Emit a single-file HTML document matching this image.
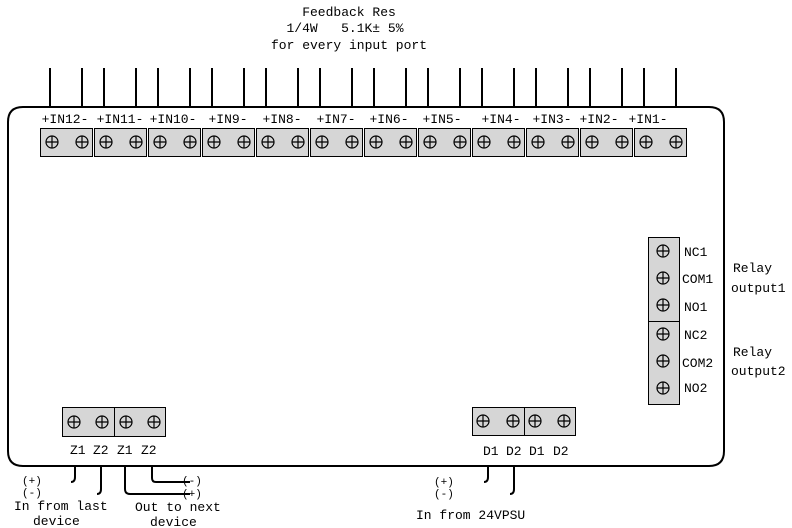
<!DOCTYPE html>
<html><head><meta charset="utf-8"><style>
html,body{margin:0;padding:0;background:#fff;}
svg{display:block;}
text{font-family:"Liberation Mono","Noto Sans CJK SC",monospace;font-size:13px;fill:#000;white-space:pre;}
</style></head><body>
<svg width="792" height="528" viewBox="0 0 792 528" xmlns="http://www.w3.org/2000/svg">
<defs>
<g id="s"><circle r="6" fill="none" stroke="#000" stroke-width="1.2"/><path d="M-6 0H6M0 -6V6" stroke="#000" stroke-width="1.2"/></g>
</defs>
<text x="349" y="16" text-anchor="middle">Feedback Res</text>
<text x="345" y="32" text-anchor="middle" xml:space="preserve">1/4W   5.1K± 5%</text>
<text x="349" y="49" text-anchor="middle">for every input port</text>
<path d="M23 107H709Q724 107 724 122V451Q724 466 709 466H23Q8 466 8 451V122Q8 107 23 107Z" fill="none" stroke="#000" stroke-width="2"/>
<g stroke="#000" stroke-width="2">
<path d="M50 68V107M82 68V107M104 68V107M136 68V107M158 68V107M190 68V107M212 68V107M244 68V107M266 68V107M298 68V107M320 68V107M352 68V107M374 68V107M406 68V107M428 68V107M460 68V107M482 68V107M514 68V107M536 68V107M568 68V107M590 68V107M622 68V107M644 68V107M676 68V107"/>
</g>
<g fill="#d6d6d6" stroke="#000" stroke-width="1">
<rect x="40.5" y="128.5" width="52" height="28"/><rect x="94.5" y="128.5" width="52" height="28"/><rect x="148.5" y="128.5" width="52" height="28"/><rect x="202.5" y="128.5" width="52" height="28"/><rect x="256.5" y="128.5" width="52" height="28"/><rect x="310.5" y="128.5" width="52" height="28"/><rect x="364.5" y="128.5" width="52" height="28"/><rect x="418.5" y="128.5" width="52" height="28"/><rect x="472.5" y="128.5" width="52" height="28"/><rect x="526.5" y="128.5" width="52" height="28"/><rect x="580.5" y="128.5" width="52" height="28"/><rect x="634.5" y="128.5" width="52" height="28"/>
</g>
<g>
<use href="#s" x="52" y="142"/><use href="#s" x="82" y="142"/>
<use href="#s" x="106" y="142"/><use href="#s" x="136" y="142"/>
<use href="#s" x="160" y="142"/><use href="#s" x="190" y="142"/>
<use href="#s" x="214" y="142"/><use href="#s" x="244" y="142"/>
<use href="#s" x="268" y="142"/><use href="#s" x="298" y="142"/>
<use href="#s" x="322" y="142"/><use href="#s" x="352" y="142"/>
<use href="#s" x="376" y="142"/><use href="#s" x="406" y="142"/>
<use href="#s" x="430" y="142"/><use href="#s" x="460" y="142"/>
<use href="#s" x="484" y="142"/><use href="#s" x="514" y="142"/>
<use href="#s" x="538" y="142"/><use href="#s" x="568" y="142"/>
<use href="#s" x="592" y="142"/><use href="#s" x="622" y="142"/>
<use href="#s" x="646" y="142"/><use href="#s" x="676" y="142"/>
</g>
<g text-anchor="middle">
<text x="65" y="123">+IN12-</text><text x="120" y="123">+IN11-</text><text x="173" y="123">+IN10-</text><text x="228" y="123">+IN9-</text><text x="282" y="123">+IN8-</text><text x="336" y="123">+IN7-</text><text x="389" y="123">+IN6-</text><text x="442" y="123">+IN5-</text><text x="501" y="123">+IN4-</text><text x="552" y="123">+IN3-</text><text x="599" y="123">+IN2-</text><text x="648" y="123">+IN1-</text>
</g>
<rect x="648.5" y="237.5" width="31" height="84" fill="#d6d6d6" stroke="#000"/>
<rect x="648.5" y="321.5" width="31" height="83" fill="#d6d6d6" stroke="#000"/>
<use href="#s" x="663" y="251"/><use href="#s" x="663" y="278"/><use href="#s" x="663" y="305"/>
<use href="#s" x="663" y="334"/><use href="#s" x="663" y="361"/><use href="#s" x="663" y="388"/>
<text x="684" y="256">NC1</text><text x="682" y="283">COM1</text><text x="684" y="311">NO1</text>
<text x="684" y="339">NC2</text><text x="682" y="367">COM2</text><text x="684" y="392">NO2</text>
<text x="733" y="272">Relay</text><text x="731" y="292">output1</text>
<text x="733" y="356">Relay</text><text x="731" y="375">output2</text>
<rect x="62.5" y="407.5" width="52" height="29" fill="#d6d6d6" stroke="#000"/>
<rect x="114.5" y="407.5" width="51" height="29" fill="#d6d6d6" stroke="#000"/>
<use href="#s" x="74" y="422"/><use href="#s" x="102" y="422"/><use href="#s" x="126" y="422"/><use href="#s" x="154" y="422"/>
<text x="70" y="454">Z1</text><text x="93" y="454">Z2</text><text x="117" y="454">Z1</text><text x="141" y="454">Z2</text>
<rect x="472.5" y="407.5" width="52" height="28" fill="#d6d6d6" stroke="#000"/>
<rect x="524.5" y="407.5" width="51" height="28" fill="#d6d6d6" stroke="#000"/>
<use href="#s" x="483" y="421"/><use href="#s" x="513" y="421"/><use href="#s" x="535" y="421"/><use href="#s" x="564" y="421"/>
<text x="483" y="455">D1</text><text x="506" y="455">D2</text><text x="529" y="455">D1</text><text x="553" y="455">D2</text>
<g fill="none" stroke="#000" stroke-width="2">
<path d="M75 466V477Q75 482 71 482"/>
<path d="M101 466V489Q101 494 97 494"/>
<path d="M125 466V489Q125 494 130 494H190"/>
<path d="M152 466V478Q152 482 156 482H190"/>
<path d="M488 466V477Q488 482 484 482"/>
<path d="M514 466V489Q514 494 510 494"/>
</g>
<text x="22" y="484" style="font-size:11px">(+)</text>
<text x="22" y="496" style="font-size:11px">(-)</text>
<text x="182" y="484" style="font-size:11px">(-)</text>
<text x="182" y="497" style="font-size:11px">(+)</text>
<text x="434" y="485" style="font-size:11px">(+)</text>
<text x="434" y="497" style="font-size:11px">(-)</text>
<text x="14" y="510">In from last</text>
<text x="33" y="525">device</text>
<text x="135" y="511">Out to next</text>
<text x="150" y="526">device</text>
<text x="416" y="519">In from 24VPSU</text>
</svg>
</body></html>
